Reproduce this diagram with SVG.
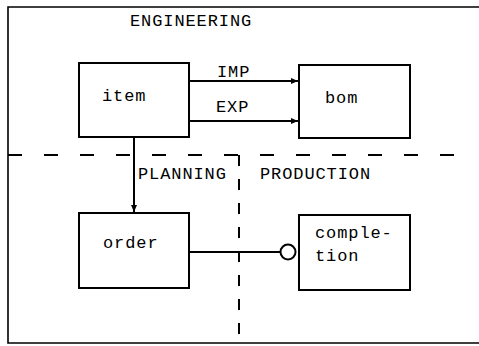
<svg xmlns="http://www.w3.org/2000/svg" width="479" height="346" viewBox="0 0 479 346">
<style>
text{font-family:"Liberation Mono","Courier New",monospace;font-size:17px;fill:#000;letter-spacing:0.9px}
.box{fill:#fff;stroke:#000;stroke-width:2}
.ln{fill:none;stroke:#000;stroke-width:2}
.frame{fill:none;stroke:#000;stroke-width:1.6}
.dash{fill:none;stroke:#000;stroke-width:2}
</style>
<defs>
<marker id="arr" markerWidth="8" markerHeight="8" refX="7" refY="4" orient="auto" markerUnits="userSpaceOnUse">
<path d="M0,1 L7,4 L0,7 Z" fill="#000"/>
</marker>
</defs>
<rect width="479" height="346" fill="#fff"/>
<g id="frame">
<path class="frame" d="M479,7 H8 V343 H479"/>
<path class="dash" d="M8,155 H472" stroke-dasharray="14 22"/>
<path class="dash" d="M239,155 V343" stroke-dasharray="11 13"/>
<text x="130" y="26">ENGINEERING</text>
<text x="138" y="179">PLANNING</text>
<text x="260" y="179">PRODUCTION</text>
</g>
<g id="item"><rect class="box" x="79" y="63" width="110" height="74"/><text x="102" y="101">item</text></g>
<g id="bom"><rect class="box" x="299" y="65" width="111" height="73"/><text x="325" y="103">bom</text></g>
<g id="order"><rect class="box" x="79" y="213" width="110" height="75"/><text x="103" y="248">order</text></g>
<g id="completion"><rect class="box" x="299" y="215" width="111" height="75"/><text x="315" y="238">comple-</text><text x="315" y="261">tion</text></g>
<g id="connectors">
<line class="ln" x1="189" y1="81" x2="298" y2="81" marker-end="url(#arr)"/>
<text x="217" y="77">IMP</text>
<line class="ln" x1="189" y1="121" x2="298" y2="121" marker-end="url(#arr)"/>
<text x="216" y="112">EXP</text>
<line class="ln" x1="134" y1="137" x2="134" y2="212" marker-end="url(#arr)"/>
<line class="ln" x1="189" y1="252" x2="280" y2="252"/>
<circle cx="288" cy="252" r="7.5" fill="#fff" stroke="#000" stroke-width="2"/>
</g>
</svg>
